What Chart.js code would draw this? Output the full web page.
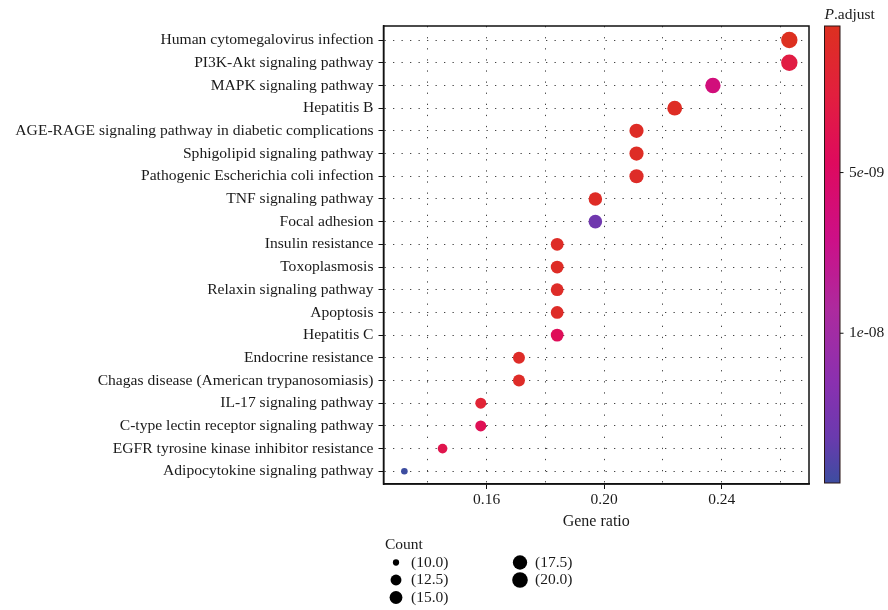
<!DOCTYPE html>
<html>
<head>
<meta charset="utf-8">
<script src="https://cdn.jsdelivr.net/npm/chart.js@4.4.1/dist/chart.umd.min.js"></script>
<style>
  html, body { margin: 0; padding: 0; background: #fff; }
  #wrap { width: 888px; height: 610px; }
</style>
</head>
<body>
<div id="wrap"><canvas id="dotChart" width="888" height="610"></canvas></div>
<script>
// KEGG pathways, top to bottom
const categories = [
    'Human cytomegalovirus infection',
    'PI3K-Akt signaling pathway',
    'MAPK signaling pathway',
    'Hepatitis B',
    'AGE-RAGE signaling pathway in diabetic complications',
    'Sphigolipid signaling pathway',
    'Pathogenic Escherichia coli infection',
    'TNF signaling pathway',
    'Focal adhesion',
    'Insulin resistance',
    'Toxoplasmosis',
    'Relaxin signaling pathway',
    'Apoptosis',
    'Hepatitis C',
    'Endocrine resistance',
    'Chagas disease (American trypanosomiasis)',
    'IL-17 signaling pathway',
    'C-type lectin receptor signaling pathway',
    'EGFR tyrosine kinase inhibitor resistance',
    'Adipocytokine signaling pathway'
];
const geneRatio = [0.263, 0.263, 0.237, 0.224, 0.211, 0.211, 0.211, 0.197, 0.197, 0.184,
                   0.184, 0.184, 0.184, 0.184, 0.171, 0.171, 0.158, 0.158, 0.145, 0.132];
const counts = [20, 20, 18, 17, 16, 16, 16, 15, 15, 14, 14, 14, 14, 14, 13, 13, 12, 12, 11, 10];
const pAdjust = [4.4e-10, 2.9e-9, 6.4e-9, 8e-10, 9e-10, 8e-10, 1.0e-9, 9e-10, 1.29e-8, 9e-10,
                 9e-10, 1.0e-9, 1.0e-9, 4.4e-9, 1.0e-9, 1.0e-9, 2.0e-9, 4.1e-9, 3.6e-9, 1.466e-8];

// axis ticks
const xGridValues = [0.14, 0.16, 0.18, 0.20, 0.22, 0.24, 0.26];
const xTickLabels = ['0.16', '0.20', '0.24'];
const colorTicks = [5e-9, 1e-8];
const colorTickLabels = ['5e-09', '1e-08'];
const legendCounts = [10.0, 12.5, 15.0, 17.5, 20.0];

const FONT = '"Liberation Serif", "DejaVu Serif", serif';
const TEXT = '#1a1a1a';

// colour ramp red -> magenta -> blue (low p at top)
const colorStops = [
    [0, [221, 48, 32]], [0.15, [226, 31, 62]], [0.3, [222, 10, 94]], [0.47, [204, 16, 136]],
    [0.62, [173, 42, 158]], [0.78, [138, 48, 176]], [0.9, [106, 58, 174]], [1, [61, 77, 160]]
];
const pMin = Math.min(...pAdjust);
const pMax = Math.max(...pAdjust);

function rampColor(t) {
    t = Math.max(0, Math.min(1, t));
    for (let i = 1; i < colorStops.length; i++) {
        const [t1, c1] = colorStops[i];
        const [t0, c0] = colorStops[i - 1];
        if (t <= t1) {
            const f = (t - t0) / (t1 - t0);
            const c = c0.map((v, k) => Math.round(v + (c1[k] - v) * f));
            return 'rgb(' + c.join(',') + ')';
        }
    }
    return 'rgb(' + colorStops[colorStops.length - 1][1].join(',') + ')';
}
function pColor(p) {
    return rampColor((p - pMin) / (pMax - pMin));
}

// size scale: diameter linear in sqrt of rescaled count
const cMin = Math.min(...counts);
const cMax = Math.max(...counts);
function countRadius(c) {
    const t = Math.max(0, (c - cMin) / (cMax - cMin));
    return (6.6 + (16.4 - 6.6) * Math.sqrt(t)) / 2;
}

const points = categories.map((name, i) => ({ x: geneRatio[i], y: i, r: countRadius(counts[i]) }));

// border box, colour bar and size legend
const extrasPlugin = {
    id: 'extras',
    afterDraw(chart) {
        const ctx = chart.ctx;
        const area = chart.chartArea;
        ctx.save();

        // panel border
        ctx.strokeStyle = '#111';
        ctx.lineWidth = 1.5;
        ctx.strokeRect(area.left, area.top, area.right - area.left, area.bottom - area.top);

        // colour bar
        const barX = area.right + 15.5;
        const barW = 15.5;
        const barTop = area.top;
        const barBottom = area.bottom - 1;
        const grad = ctx.createLinearGradient(0, barTop, 0, barBottom);
        colorStops.forEach(s => grad.addColorStop(s[0], 'rgb(' + s[1].join(',') + ')'));
        ctx.fillStyle = grad;
        ctx.fillRect(barX, barTop, barW, barBottom - barTop);
        ctx.strokeStyle = '#2a1414';
        ctx.lineWidth = 1;
        ctx.strokeRect(barX, barTop, barW, barBottom - barTop);

        ctx.textBaseline = 'middle';
        ctx.fillStyle = TEXT;
        colorTicks.forEach((v, i) => {
            const y = barTop + (v - pMin) / (pMax - pMin) * (barBottom - barTop);
            ctx.strokeStyle = '#111';
            ctx.beginPath();
            ctx.moveTo(barX + barW, y);
            ctx.lineTo(barX + barW + 3.5, y);
            ctx.stroke();
            // mantissa, italic e, exponent
            const parts = colorTickLabels[i].split('e');
            let x = barX + barW + 9;
            ctx.textAlign = 'left';
            ctx.font = '15.5px ' + FONT;
            ctx.fillText(parts[0], x, y);
            x += ctx.measureText(parts[0]).width;
            ctx.font = 'italic 15.5px ' + FONT;
            ctx.fillText('e', x, y);
            x += ctx.measureText('e').width;
            ctx.font = '15.5px ' + FONT;
            ctx.fillText(parts[1], x, y);
        });

        // colour bar title
        let tx = barX;
        ctx.font = 'italic 15.5px ' + FONT;
        ctx.fillText('P', tx, barTop - 11);
        tx += ctx.measureText('P').width;
        ctx.font = '15.5px ' + FONT;
        ctx.fillText('.adjust', tx, barTop - 11);

        // size legend
        const lx = area.left + 1.5;
        const ly = area.bottom + 61;
        ctx.font = '15.5px ' + FONT;
        ctx.fillText('Count', lx, ly);
        legendCounts.forEach((c, i) => {
            const col = Math.floor(i / 3);
            const row = i % 3;
            const cx = lx + 11 + col * 124;
            const cy = ly + 17.5 + row * 17.5;
            ctx.fillStyle = '#000';
            ctx.beginPath();
            ctx.arc(cx, cy, countRadius(c) * 0.95, 0, Math.PI * 2);
            ctx.fill();
            ctx.fillStyle = TEXT;
            ctx.fillText('(' + c.toFixed(1) + ')', cx + 15, cy);
        });

        ctx.restore();
    }
};

document.addEventListener('DOMContentLoaded', function() {
    const dotCtx = document.getElementById('dotChart');
    const dotChart = new Chart(dotCtx, {
        type: 'bubble',
        data: {
            datasets: [{
                label: 'Count',
                data: points,
                backgroundColor: pAdjust.map(pColor),
                borderWidth: 0,
                hoverBorderWidth: 0
            }]
        },
        options: {
            responsive: false,
            animation: false,
            events: [],
            layout: {
                padding: { top: 26, right: 79, bottom: 79, left: 0 }
            },
            plugins: {
                legend: { display: false },
                tooltip: { enabled: false }
            },
            scales: {
                x: {
                    type: 'linear',
                    min: 0.1249,
                    max: 0.2697,
                    afterBuildTicks: function(scale) {
                        scale.ticks = xGridValues.map(v => ({ value: v }));
                    },
                    afterFit: function(scale) {
                        scale.height = 47;
                    },
                    ticks: {
                        autoSkip: false,
                        maxRotation: 0,
                        padding: 2,
                        color: TEXT,
                        font: { family: FONT, size: 15.5 },
                        callback: function(value) {
                            const label = value.toFixed(2);
                            return xTickLabels.includes(label) ? label : '';
                        }
                    },
                    grid: {
                        color: '#444',
                        lineWidth: 1,
                        tickLength: 5,
                        tickColor: function(c) {
                            return c.tick && xTickLabels.includes(c.tick.value.toFixed(2)) ? '#111' : 'rgba(0,0,0,0)';
                        }
                    },
                    border: {
                        display: true,
                        color: '#111',
                        width: 1.5,
                        dash: [1.3, 9.8]
                    },
                    title: {
                        display: true,
                        text: 'Gene ratio',
                        color: TEXT,
                        font: { family: FONT, size: 16 },
                        padding: { top: 2, bottom: 0 }
                    }
                },
                y: {
                    type: 'linear',
                    reverse: true,
                    min: -0.62,
                    max: 19.56,
                    afterBuildTicks: function(scale) {
                        scale.ticks = categories.map((c, i) => ({ value: i }));
                    },
                    afterFit: function(scale) {
                        scale.width = 383.5;
                    },
                    ticks: {
                        autoSkip: false,
                        padding: 5,
                        color: TEXT,
                        font: { family: FONT, size: 15.6 },
                        callback: function(value) {
                            return categories[value];
                        }
                    },
                    grid: {
                        color: '#444',
                        lineWidth: 1,
                        tickLength: 5,
                        tickColor: '#111'
                    },
                    border: {
                        display: true,
                        color: '#111',
                        width: 1.5,
                        dash: [1.3, 7.2]
                    }
                }
            }
        },
        plugins: [extrasPlugin]
    });
});
</script>
</body>
</html>
